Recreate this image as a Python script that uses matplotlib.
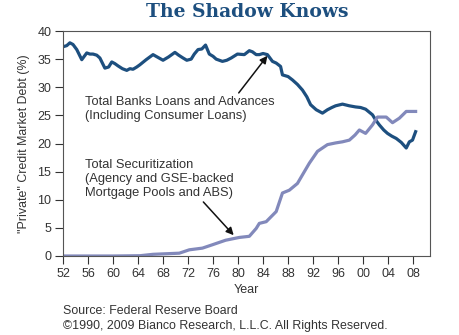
import matplotlib.pyplot as plt

# values, % of "private" credit market debt
bank_years = [1952.0, 1952.6, 1953.1, 1953.6, 1954.2, 1955.0, 1955.8, 1956.3, 1956.8, 1957.4,
              1957.9, 1958.7, 1959.3, 1959.8, 1960.3, 1960.8, 1961.5, 1962.2, 1962.7, 1963.2,
              1963.8, 1964.3, 1965.3, 1966.4, 1967.2, 1968.0, 1968.9, 1969.9, 1970.5, 1971.2,
              1971.8, 1972.5, 1973.0, 1973.6, 1974.2, 1974.8, 1975.4, 1976.0, 1976.5, 1977.5,
              1978.2, 1978.9, 1979.9, 1981.0, 1981.8, 1982.3, 1982.9, 1983.4, 1984.0, 1984.7,
              1985.5, 1986.1, 1986.8, 1987.1, 1988.0, 1988.7, 1989.5, 1990.3, 1991.0, 1991.6,
              1992.5, 1993.5, 1994.3, 1995.0, 1995.6, 1996.7, 1997.8, 1998.8, 1999.6, 2000.4,
              2001.5, 2002.0, 2002.6, 2003.3, 2003.9, 2004.6, 2005.3, 2006.1, 2006.9, 2007.4,
              2007.9, 2008.4]
bank_loans = [37.2, 37.4, 37.9, 37.6, 36.7, 34.9, 36.1, 35.9, 35.9, 35.7,
              35.2, 33.4, 33.6, 34.5, 34.2, 33.8, 33.3, 33.0, 33.3, 33.2,
              33.6, 34.0, 34.9, 35.8, 35.3, 34.8, 35.4, 36.2, 35.7, 35.2,
              34.8, 35.0, 35.9, 36.7, 36.8, 37.5, 35.9, 35.5, 35.0, 34.6,
              34.8, 35.2, 35.9, 35.8, 36.5, 36.3, 35.8, 35.8, 36.0, 35.8,
              34.6, 34.3, 33.7, 32.2, 31.9, 31.3, 30.5, 29.5, 28.3, 26.9,
              26.0, 25.4, 26.0, 26.4, 26.7, 27.0, 26.7, 26.5, 26.4, 26.1,
              25.1, 24.2, 23.3, 22.4, 21.8, 21.3, 20.9, 20.2, 19.2, 20.3,
              20.6, 22.1]

sec_years = [1952.0, 1956.0, 1960.0, 1964.3, 1966.4, 1968.5, 1970.6, 1972.2, 1974.3, 1975.9,
             1978.0, 1980.2, 1981.8, 1982.9, 1983.4, 1984.5, 1986.1, 1987.1, 1988.2, 1989.5,
             1990.5, 1991.4, 1992.7, 1994.3, 1995.6, 1996.7, 1997.8, 1998.7, 1999.4, 2000.4,
             2001.5, 2002.3, 2003.7, 2004.7, 2005.8, 2006.9, 2008.4]
securitization = [0.0, 0.0, 0.0, 0.05, 0.3, 0.4, 0.5, 1.1, 1.4, 2.0,
                  2.8, 3.3, 3.5, 4.9, 5.8, 6.1, 7.9, 11.2, 11.7, 12.9,
                  14.8, 16.5, 18.6, 19.8, 20.1, 20.3, 20.6, 21.5, 22.4, 21.8,
                  23.3, 24.7, 24.7, 23.7, 24.5, 25.7, 25.7]

tick_years = list(range(1952, 2009, 4))
tick_labels = ["%02d" % (y % 100) for y in tick_years]

DARK = "#1d4f7f"
LIGHT = "#8289bb"
TXT = "#333333"

plt.rcParams["font.family"] = ["Liberation Sans", "DejaVu Sans"]

fig = plt.figure(figsize=(4.6, 3.35), dpi=100)
ax = fig.add_axes([63 / 460, 1 - 256 / 335, 367 / 460, 225 / 335])

ax.plot(bank_years, bank_loans, color=DARK, lw=2.3, solid_joinstyle="round")
ax.plot(sec_years, securitization, color=LIGHT, lw=2.3, solid_joinstyle="round")

ax.set_xlim(1952, 2010.7)
ax.set_ylim(0, 40)
ax.set_xticks(tick_years)
ax.set_xticklabels(tick_labels)
ax.set_yticks(range(0, 41, 5))
ax.tick_params(labelsize=9, colors=TXT, length=5.5, width=0.8, pad=3)
for s in ax.spines.values():
    s.set_color("#555555")
    s.set_linewidth(0.8)

ax.set_xlabel("Year", fontsize=9, color=TXT, labelpad=3)
ax.set_ylabel('"Private" Credit Market Debt (%)', fontsize=8.9, color=TXT, labelpad=5)

ax.annotate("Total Banks Loans and Advances\n(Including Consumer Loans)",
            xy=(1984.7, 35.6), xytext=(1955.5, 28.5),
            fontsize=9.3, color=TXT, va="top", ha="left", linespacing=1.25,
            arrowprops=dict(arrowstyle="-|>", color="#111111", lw=1.1,
                            mutation_scale=11, shrinkA=0, shrinkB=0,
                            relpos=(0.8, 1.0)))
ax.annotate("Total Securitization\n(Agency and GSE-backed\nMortgage Pools and ABS)",
            xy=(1979.3, 3.7), xytext=(1955.5, 17.3),
            fontsize=9.3, color=TXT, va="top", ha="left", linespacing=1.25,
            arrowprops=dict(arrowstyle="-|>", color="#111111", lw=1.1,
                            mutation_scale=11, shrinkA=0, shrinkB=0,
                            relpos=(0.78, 0.0)))

fig.text(0.537, 0.963, "The Shadow Knows", ha="center", va="center",
         fontsize=13.5, fontweight="bold", color=DARK, family="DejaVu Serif")
fig.text(63 / 460, 1 - 311 / 335, "Source: Federal Reserve Board",
         fontsize=8.9, color=TXT, va="center")
fig.text(63 / 460, 1 - 326 / 335, "\u00a91990, 2009 Bianco Research, L.L.C. All Rights Reserved.",
         fontsize=8.9, color=TXT, va="center")

fig.savefig("out.png", dpi=100)
